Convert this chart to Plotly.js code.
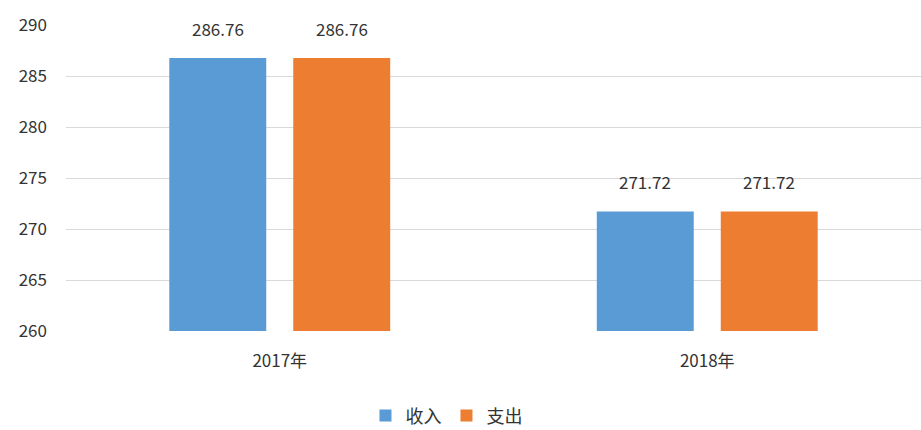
<!DOCTYPE html>
<html><head><meta charset="utf-8">
<script src="https://cdn.plot.ly/plotly-3.0.1.min.js"></script>
<style>body{margin:0;background:#fff}#c{width:921px;height:430px}</style>
</head><body><div id="c"></div>
<script>
const categories = ['2017年', '2018年'];
const income = [286.76, 271.72];
const expense = [286.76, 271.72];
const seriesNames = ['收入', '支出'];
const yTicks = [260, 265, 270, 275, 280, 285, 290];

const font = '"Noto Sans CJK SC", "Noto Sans", sans-serif';
const colors = ['#5B9BD5', '#ED7D31'];
const series = [income, expense];

const traces = series.map((vals, i) => ({
  type: 'bar', x: categories, y: vals, name: seriesNames[i],
  marker: {color: colors[i]}, hoverinfo: 'none'
}));

const annotations = [];
series.forEach((vals, i) => {
  vals.forEach((v, j) => {
    annotations.push({
      x: categories[j], y: v, xref: 'x', yref: 'y',
      text: v.toFixed(2), showarrow: false,
      xshift: i === 0 ? -62 : 62, yshift: 30,
      font: {family: font, size: 17, color: '#333'}
    });
  });
});

Plotly.newPlot('c', traces, {
  width: 921, height: 430,
  margin: {l: 66, r: 0, t: 25, b: 99},
  paper_bgcolor: '#fff', plot_bgcolor: '#fff',
  barmode: 'group', bargap: 0.42, bargroupgap: 0.218,
  font: {family: font, color: '#333'},
  xaxis: {tickfont: {size: 17, color: '#333'}, showline: false, ticks: '', showgrid: false,
    ticklabelstandoff: 18},
  yaxis: {range: [260, 290], tickvals: yTicks, ticktext: yTicks.map(String),
    tickfont: {size: 17, color: '#333'}, gridcolor: '#d9d9d9', gridwidth: 1,
    zeroline: false, showline: false, ticks: '', ticklabelstandoff: 18},
  showlegend: true,
  legend: {orientation: 'h', x: 0.445, xanchor: 'center', yref: 'container', y: 0.033, yanchor: 'middle',
    font: {size: 18, color: '#333'}, itemwidth: 30},
  annotations: annotations
}, {displayModeBar: false, staticPlot: true});
</script></body></html>
